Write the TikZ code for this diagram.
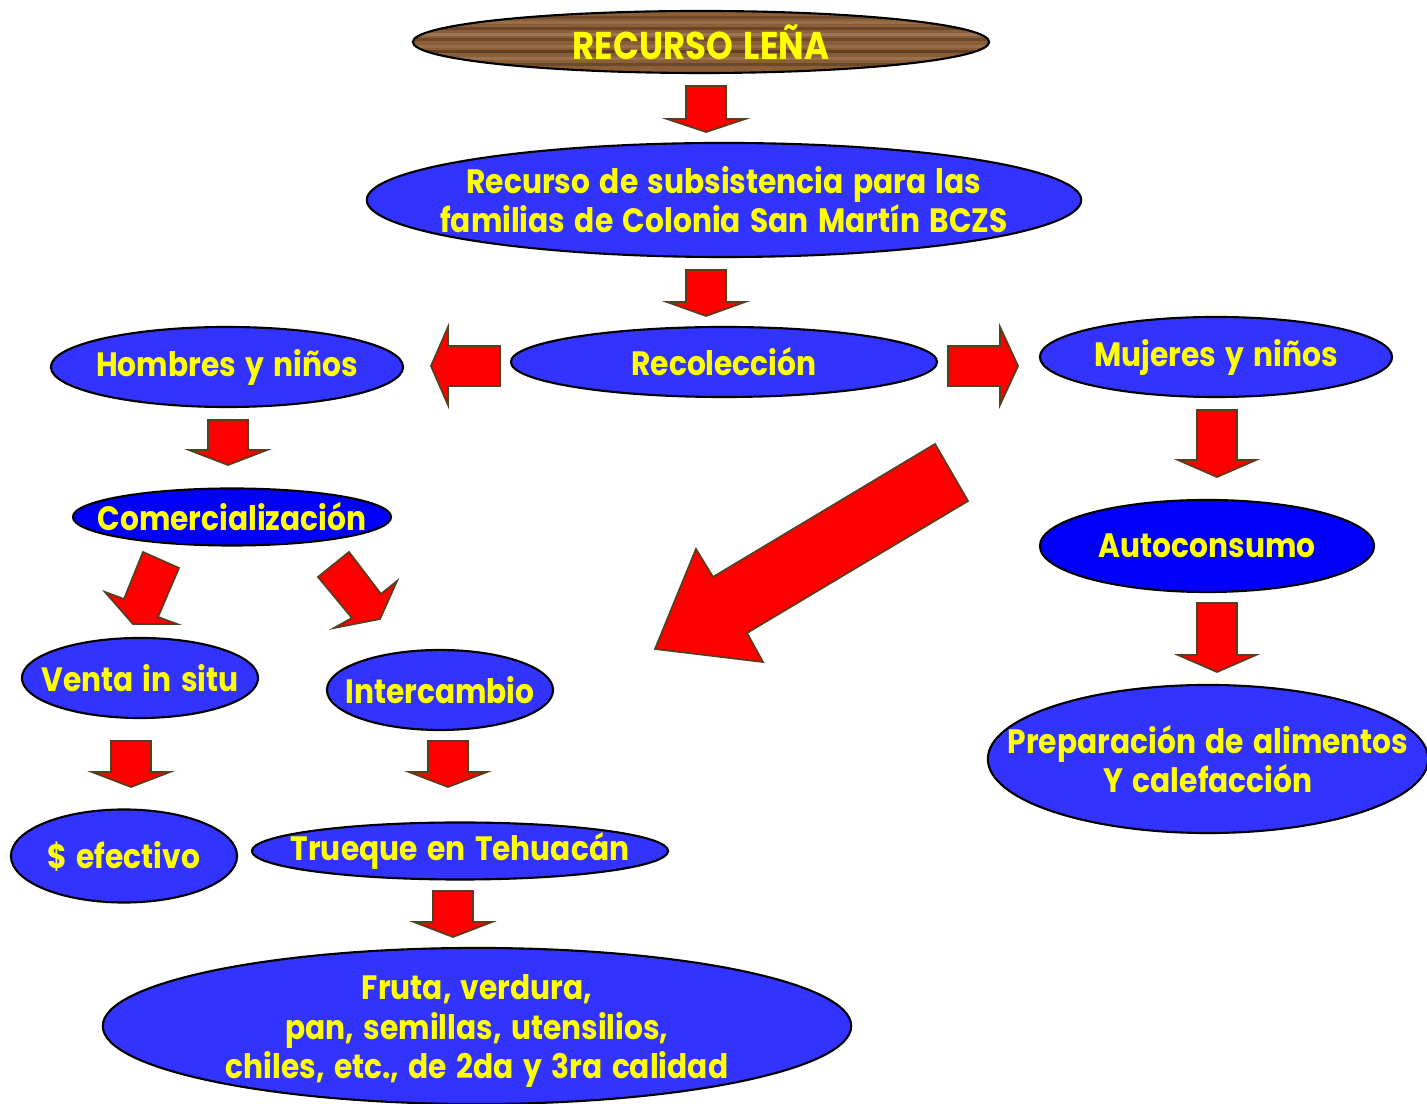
\documentclass[tikz,border=0pt]{standalone}
\usepackage{fontspec}
\setmainfont{Poppins}[FakeStretch=0.88, WordSpace=1.5]
\usetikzlibrary{shapes.geometric}
\definecolor{azul}{RGB}{51,51,255}
\definecolor{azulfuerte}{RGB}{0,0,250}
\definecolor{amarillo}{RGB}{255,255,0}
\definecolor{rojo}{RGB}{255,0,0}
\definecolor{cafe}{RGB}{90,60,30}
\definecolor{madera}{RGB}{140,94,55}
\def\flechaabajo(#1,#2,#3,#4){\draw[flecha] (#1-20,#2) -- (#1+20,#2) -- (#1+20,#3) -- (#1+39,#3) -- (#1,#4) -- (#1-39,#3) -- (#1-20,#3) -- cycle;}

\begin{document}
\begin{tikzpicture}[x=0.01cm, y=-0.01cm,
	elipse/.style={ellipse, draw=black, line width=0.6pt, fill=azul, inner sep=0pt},
	texto/.style={text=amarillo, align=center, font=\fontsize{9.6}{11.1}\selectfont\bfseries},
	flecha/.style={fill=rojo, draw=cafe, line width=0.5pt, line join=miter}]
			%%%%% START %%%%%
			\useasboundingbox (0,0) rectangle (1427,1104);
			
			% madera
			\begin{scope}
			\clip (701,42) ellipse [x radius=2.88cm, y radius=0.31cm];
			\fill[madera] (413,10) rectangle (990,74);
			\foreach \yy/\cc in {16/madera!80!black, 21/madera!90!white, 27/madera!75!black, 33/madera!85!white, 38/madera!78!black, 45/madera!90!white, 50/madera!70!black, 57/madera!88!white, 63/madera!78!black}
				\fill[\cc] (413,\yy) rectangle (990,\yy+3);
			\end{scope}
			\node[ellipse, draw=black, line width=0.6pt, inner sep=0pt, minimum width=5.76cm, minimum height=0.62cm] (lena) at (701,42) {};
			\node[texto, font=\fontsize{11}{12}\selectfont\bfseries] at (lena) {RECURSO LEÑA};
			
			\node[elipse, minimum width=7.14cm, minimum height=1.14cm] (subs) at (724,200) {};
			\node[texto] at (subs) {Recurso de subsistencia para las\\familias de Colonia San Martín BCZS};
			
			\node[elipse, minimum width=4.26cm, minimum height=0.70cm] (recol) at (724,362) {};
			\node[texto] at (recol) {Recolección};
			
			\node[elipse, minimum width=3.52cm, minimum height=0.80cm] (hombres) at (227,367) {};
			\node[texto] at (hombres) {Hombres y niños};
			
			\node[elipse, minimum width=3.52cm, minimum height=0.80cm] (mujeres) at (1216,357) {};
			\node[texto] at (mujeres) {Mujeres y niños};
			
			\node[elipse, fill=azulfuerte, minimum width=3.18cm, minimum height=0.57cm] (comer) at (232,517) {};
			\node[texto] at (comer) {Comercialización};
			
			\node[elipse, fill=azulfuerte, minimum width=3.34cm, minimum height=0.92cm] (auto) at (1207,546) {};
			\node[texto] at (auto) {Autoconsumo};
			
			\node[elipse, minimum width=2.36cm, minimum height=0.80cm] (venta) at (140,678) {};
			\node[texto] at (venta) {Venta in situ};
			
			\node[elipse, minimum width=2.26cm, minimum height=0.80cm] (inter) at (440,690) {};
			\node[texto] at (inter) {Intercambio};
			
			\node[elipse, minimum width=4.40cm, minimum height=1.48cm] (prep) at (1208,759) {};
			\node[texto] at (prep) {Preparación de alimentos\\Y calefacción};
			
			\node[elipse, minimum width=2.26cm, minimum height=0.93cm] (efect) at (124,856) {};
			\node[texto] at (efect) {\$ efectivo};
			
			\node[elipse, minimum width=4.16cm, minimum height=0.57cm] (trueque) at (460,851) {};
			\node[texto] at (trueque) {Trueque en Tehuacán};
			
			\node[elipse, minimum width=7.48cm, minimum height=1.56cm] (fruta) at (477,1026) {};
			\node[texto, yshift=-0.05cm] at (fruta) {Fruta, verdura,\\pan, semillas, utensilios,\\chiles, etc., de 2da y 3ra calidad};
			
			% flechas
			\flechaabajo(706,86,119,132)
			\flechaabajo(706,270,302,316)
			\flechaabajo(228,420,450,465)
			\flechaabajo(1217,410,460,477)
			\flechaabajo(1217,603,655,672)
			\flechaabajo(131,741,772,787)
			\flechaabajo(448,741,772,787)
			\flechaabajo(453,891,922,937)
			
			\draw[flecha] (500,346) -- (448,346) -- (448,327) -- (431,366) -- (448,405) -- (448,386) -- (500,386) -- cycle;
			\draw[flecha] (948,346) -- (1000,346) -- (1000,327) -- (1018,366) -- (1000,405) -- (1000,386) -- (948,386) -- cycle;
			
			\draw[flecha] (143,552) -- (179,568) -- (158,617) -- (177,624) -- (133,624) -- (105,592) -- (124,599) -- cycle;
			\draw[flecha] (349,552) -- (318,577) -- (352,618) -- (334,628) -- (380,619) -- (397,581) -- (381,594) -- cycle;
			
			\draw[flecha] (935,444) -- (968,501) -- (747,633) -- (763,662) -- (655,649) -- (696,549) -- (713,577) -- cycle;
			
			%%%%% END %%%%%
\end{tikzpicture}
\end{document}
